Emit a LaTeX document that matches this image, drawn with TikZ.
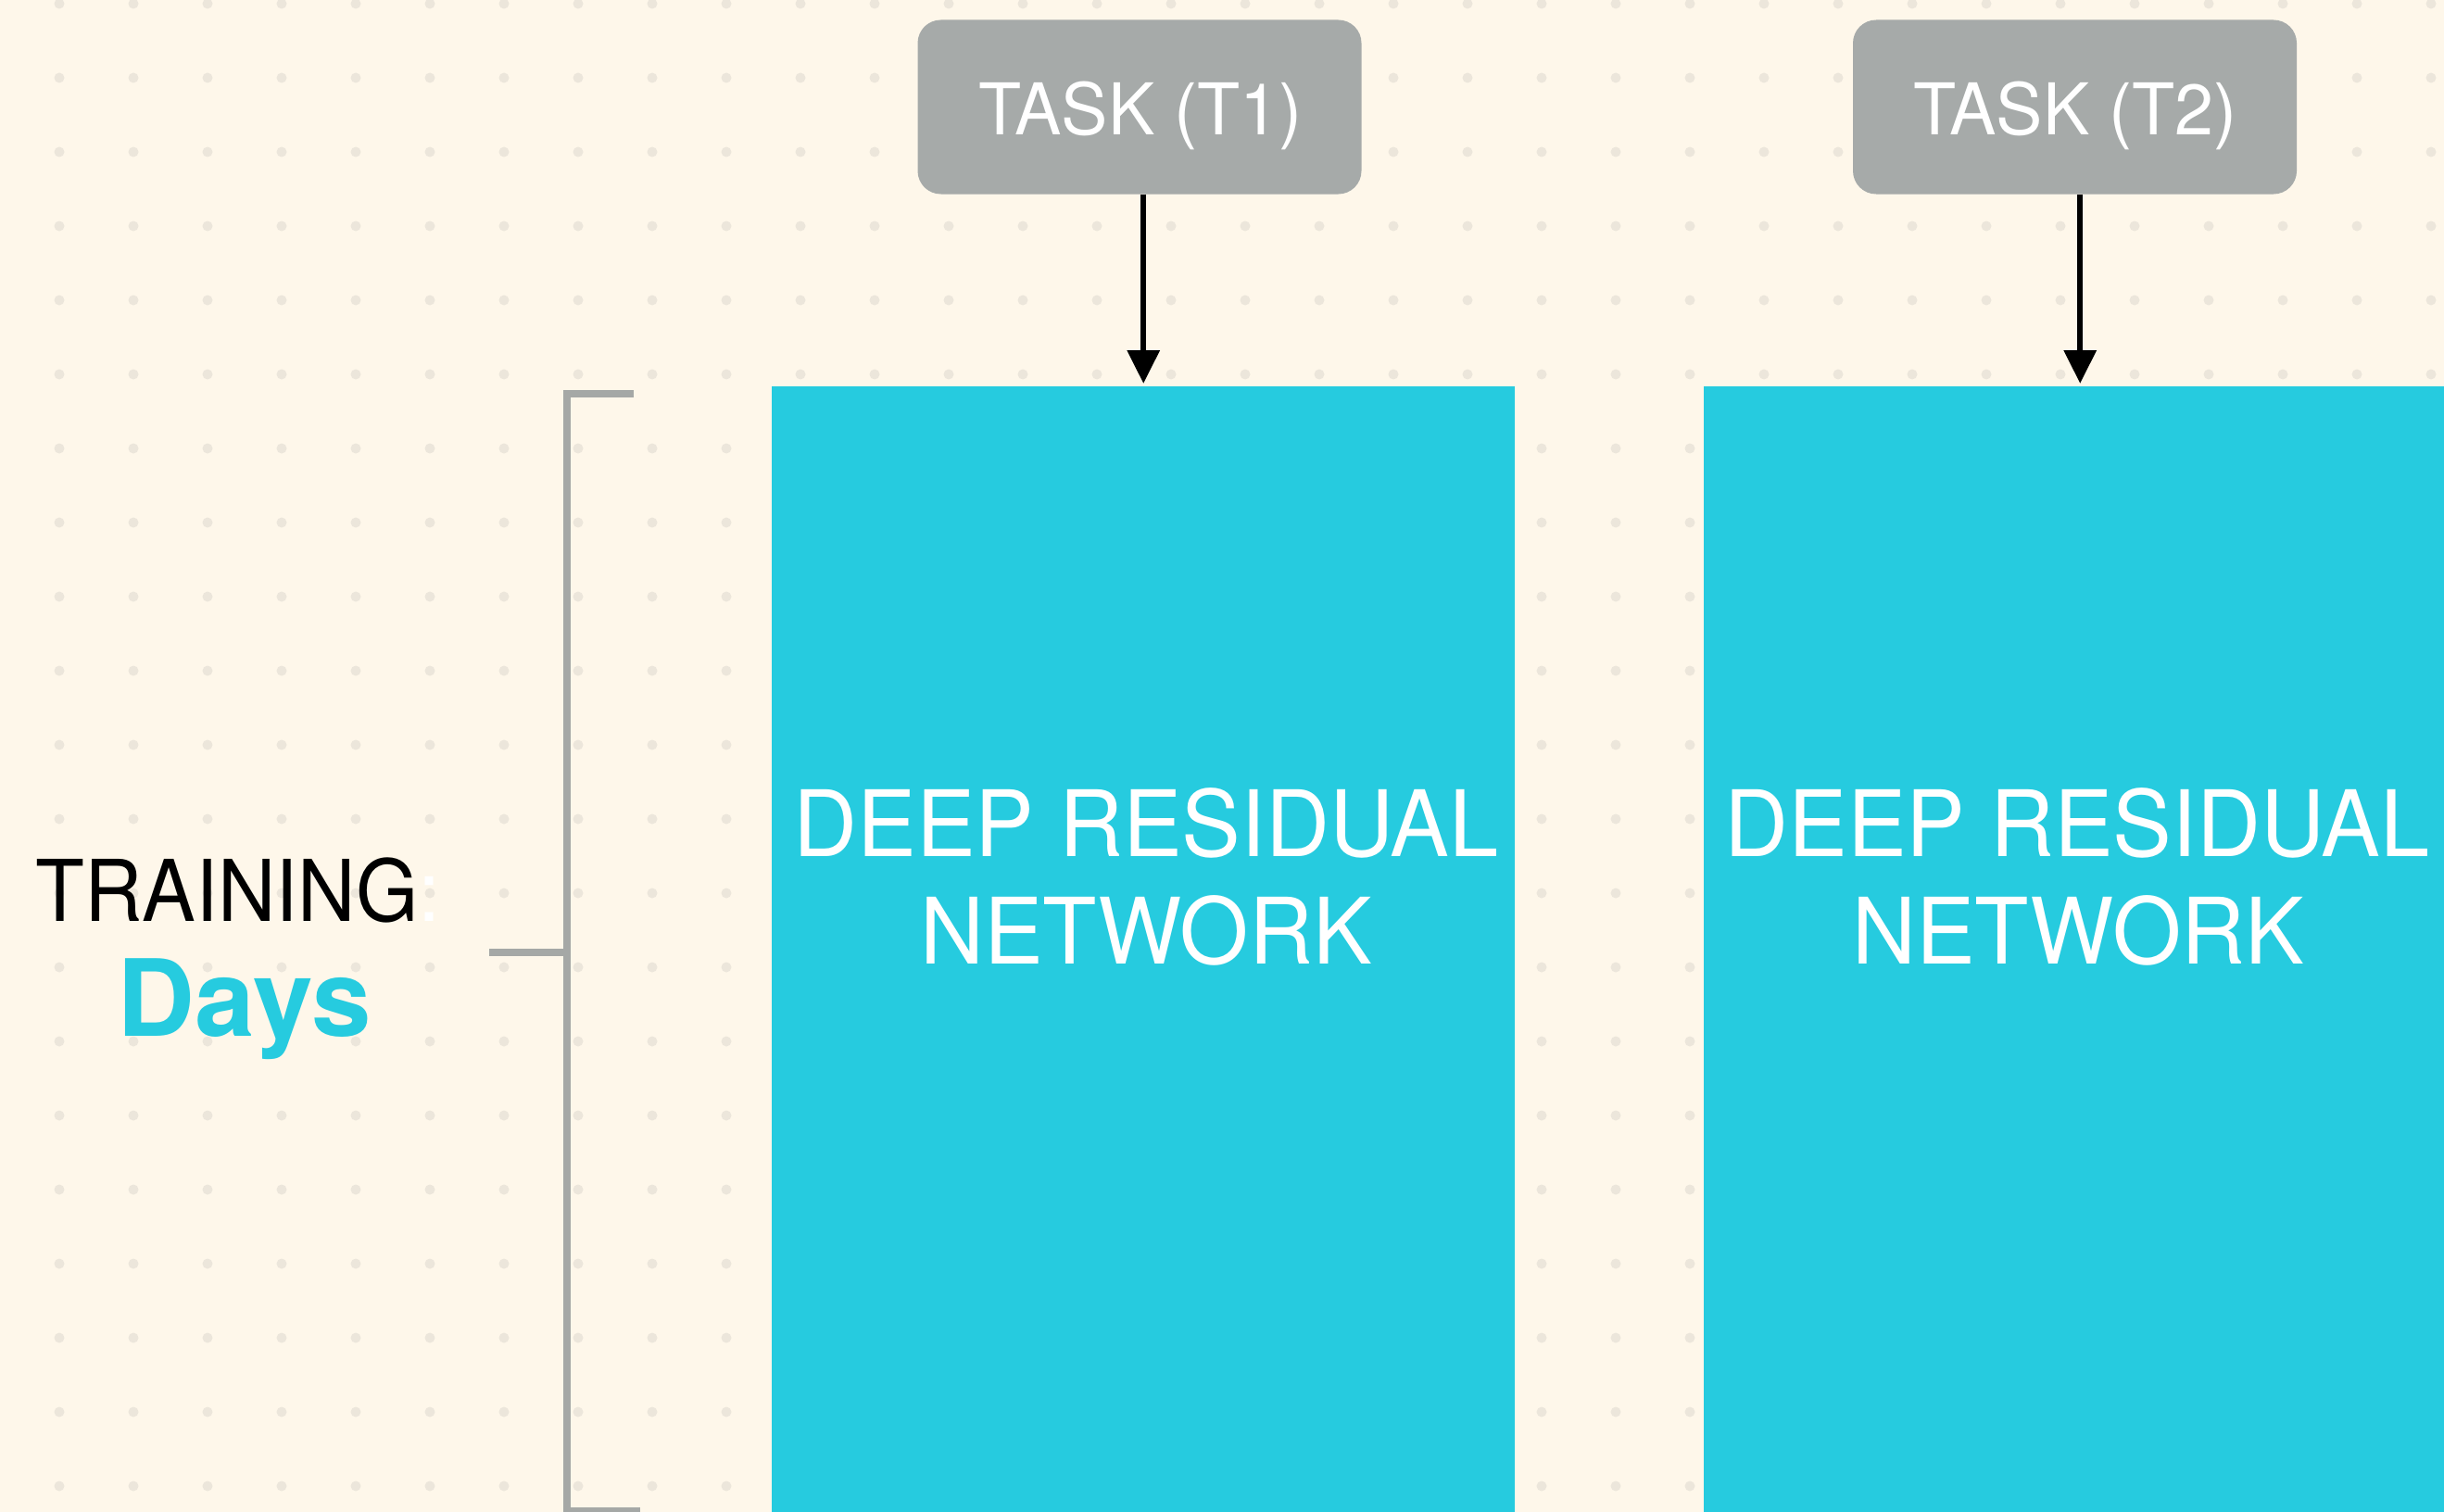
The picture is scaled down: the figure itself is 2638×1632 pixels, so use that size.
\documentclass[tikz,border=0pt]{standalone}
\usepackage{fontspec}
\setmainfont{TeX Gyre Heros}
\usetikzlibrary{arrows.meta}

\definecolor{paper}{RGB}{254,247,234}
\definecolor{griddot}{RGB}{236,230,219}
\definecolor{netcyan}{RGB}{38,203,223}
\definecolor{taskgray}{RGB}{166,170,169}
\definecolor{bracegray}{RGB}{165,168,166}

\tikzset{
  netbox/.style={fill=netcyan, draw=none, inner sep=0pt, anchor=north west, minimum height=1215},
  nettext/.style={text=white, inner sep=0pt, anchor=base, xscale=0.965,
    font=\fontsize{99}{116}\selectfont},
  taskbox/.style={fill=taskgray, draw=none, rounded corners=25pt, inner sep=0pt,
    minimum width=479, minimum height=188},
  tasktext/.style={text=white, inner sep=0pt, anchor=base, xscale=0.98,
    font=\fontsize{77}{90}\selectfont},
  feed/.style={draw=black, line width=6.5pt, -{Triangle[length=36pt,width=34pt]}, shorten >=3pt},
  bracketline/.style={draw=bracegray, line width=8pt},
}

\begin{document}
\begin{tikzpicture}[x=1pt, y=-1pt]
  % page and dotted grid
  \fill[paper] (0,0) rectangle (2638,1632);
  \useasboundingbox (0,0) rectangle (2638,1632);
  \foreach \i in {0,...,32}
    \foreach \j in {0,...,20}
      \fill[griddot] (64+80*\i, 4+80*\j) circle (5.5pt);

  % network blocks
  \node[netbox, minimum width=802] (r1) at (833,417) {};
  \node[netbox, minimum width=812] (r2) at (1839,417) {};
  \node[nettext] (r1a) at (1237,924) {DEEP RESIDUAL};
  \node[nettext] (r1b) at (1237,1040) {NETWORK};
  \node[nettext] (r2a) at (2242,924) {DEEP RESIDUAL};
  \node[nettext] (r2b) at (2243,1040) {NETWORK};

  % task inputs
  \node[taskbox] (t1) at (1230,115.5) {};
  \node[taskbox] (t2) at (2239.5,115.5) {};
  \node[tasktext] (t1l) at (1231,146) {TASK (T1)};
  \node[tasktext] (t2l) at (2240,146) {TASK (T2)};

  \draw[feed] (t1.south -| r1.north) -- (r1.north);
  \draw[feed] (t2.south -| r2.north) -- (r2.north);

  % bracket spanning the network blocks
  \coordinate (bTop) at (684,425);
  \coordinate (bTopC) at (612,425);
  \coordinate (bBotC) at (612,1631);
  \coordinate (bBot) at (691,1631);
  \coordinate (bMid) at (612,1028);
  \coordinate (bTick) at (528,1028);
  \draw[bracketline] (bTop) -- (bTopC) -- (bBotC) -- (bBot);
  \draw[bracketline] (bTick) -- (bMid);

  % side label
  \node[inner sep=0pt, anchor=base west, xscale=0.94,
        font=\fontsize{92}{110}\selectfont] (train) at (38,994)
        {TRAINING{\color{white}:}};
  \node[inner sep=0pt, anchor=base, text=netcyan, xscale=1.01,
        font=\fontsize{115}{135}\selectfont\bfseries] (days) at (263.5,1118) {Days};
\end{tikzpicture}
\end{document}
